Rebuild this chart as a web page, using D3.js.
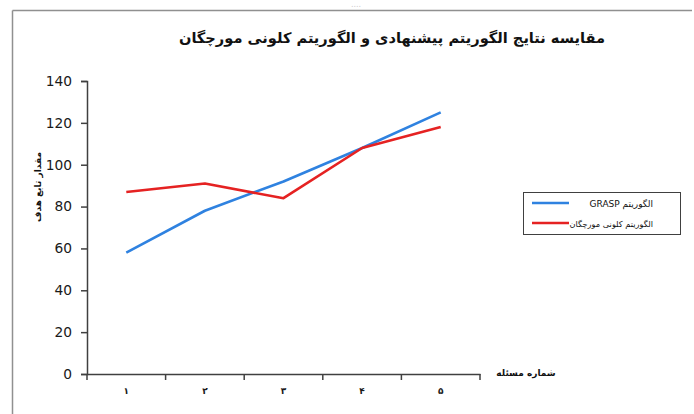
<!DOCTYPE html>
<html><head><meta charset="utf-8">
<script src="https://cdn.jsdelivr.net/npm/d3@7"></script>
<style>
html,body{margin:0;padding:0;background:#fff;}
svg{display:block;}
</style></head>
<body>
<svg id="chart" width="694" height="414"></svg>
<script>
const categories = ["۱","۲","۳","۴","۵"];
const graspValues = [58, 78, 92, 108, 125];
const antValues = [87, 91, 84, 108, 118];
const yTicks = [0,20,40,60,80,100,120,140];
const seriesNames = ["الگوریتم GRASP", "الگوریتم کلونی مورچگان"];
const seriesColors = ["#2f82e0", "#e52222"];
const chartTitle = "مقایسه نتایج الگوریتم پیشنهادی  و  الگوریتم کلونی مورچگان";
const yTitle = "مقدار تابع هدف";
const xTitle = "شماره مسئله";

const svg = d3.select("#chart");
const arabicFont = "'DejaVu Sans', sans-serif";

// outer frame (top and left edges)
svg.append("line").attr("x1",12.5).attr("x2",692).attr("y1",10.5).attr("y2",10.5).attr("stroke","#909090").attr("stroke-width",1.5);
svg.append("line").attr("x1",12.5).attr("x2",12.5).attr("y1",10.5).attr("y2",414).attr("stroke","#909090").attr("stroke-width",1.5);
svg.append("text").attr("x",356).attr("y",7).attr("text-anchor","middle").attr("fill","#ccc").attr("font-size",8).attr("font-family",arabicFont).text("....");

const x = d3.scaleBand().domain(categories).range([87,480]);
const y = d3.scaleLinear().domain([0,140]).range([374,81]);

// Y axis
const yAxis = d3.axisLeft(y).tickValues(yTicks).tickSize(6).tickPadding(9).tickFormat(d3.format("d"));
const gy = svg.append("g").attr("transform","translate(87,0)").call(yAxis);
gy.select(".domain").attr("stroke","#404040").attr("stroke-width",1.5);
gy.selectAll(".tick line").attr("stroke","#404040").attr("stroke-width",1.5);
gy.selectAll(".tick text").attr("font-family","'DejaVu Sans', Verdana, sans-serif").attr("font-size",13.8).attr("fill","#1a1a1a");

// X axis
const xAxis = d3.axisBottom(x).tickSize(0).tickPadding(14);
const gx = svg.append("g").attr("transform","translate(0,374)").call(xAxis);
gx.select(".domain").attr("stroke","#404040").attr("stroke-width",1.5);
gx.selectAll(".tick text").attr("font-family",arabicFont).attr("font-size",9).attr("font-weight","bold").attr("fill","#1a1a1a");
// category boundary ticks
const bounds = categories.map(c => x(c)).concat([x(categories[categories.length-1]) + x.bandwidth()]);
gx.selectAll(".bound").data(bounds).enter().append("line")
  .attr("x1",d=>d).attr("x2",d=>d).attr("y1",0).attr("y2",6)
  .attr("stroke","#404040").attr("stroke-width",1.5);

// lines
const line = d3.line().x((d,i)=>x(categories[i]) + x.bandwidth()/2).y(d=>y(d));
[graspValues, antValues].forEach((vals,i)=>{
  svg.append("path").datum(vals).attr("d",line).attr("fill","none")
    .attr("stroke",seriesColors[i]).attr("stroke-width",2.6).attr("stroke-linejoin","round");
});

// title
svg.append("text").attr("x",392).attr("y",43).attr("text-anchor","middle")
  .attr("font-family",arabicFont).attr("font-weight","bold").attr("font-size",14.6).attr("fill","#111")
  .text(chartTitle);

// y title
svg.append("text").attr("transform","translate(41,187) rotate(-90)").attr("text-anchor","middle")
  .attr("font-family",arabicFont).attr("font-weight","bold").attr("font-size",9).attr("fill","#111")
  .text(yTitle);

// x title
svg.append("text").attr("x",526).attr("y",376).attr("text-anchor","middle")
  .attr("font-family",arabicFont).attr("font-weight","bold").attr("font-size",9).attr("fill","#111")
  .text(xTitle);

// legend
const lg = svg.append("g");
lg.append("rect").attr("x",523.5).attr("y",192.5).attr("width",157).attr("height",42)
  .attr("fill","#fff").attr("stroke","#404040").attr("stroke-width",1);
seriesNames.forEach((n,i)=>{
  const ly = 203 + i*20;
  lg.append("line").attr("x1",532).attr("x2",569).attr("y1",ly).attr("y2",ly)
    .attr("stroke",seriesColors[i]).attr("stroke-width",2.6);
  lg.append("text").attr("x",653).attr("y",ly+3.5).attr("direction","rtl").attr("text-anchor","start")
    .attr("font-family",arabicFont).attr("font-size",i===0?9:8.2).attr("fill","#111").text(n);
});
</script>
</body></html>
